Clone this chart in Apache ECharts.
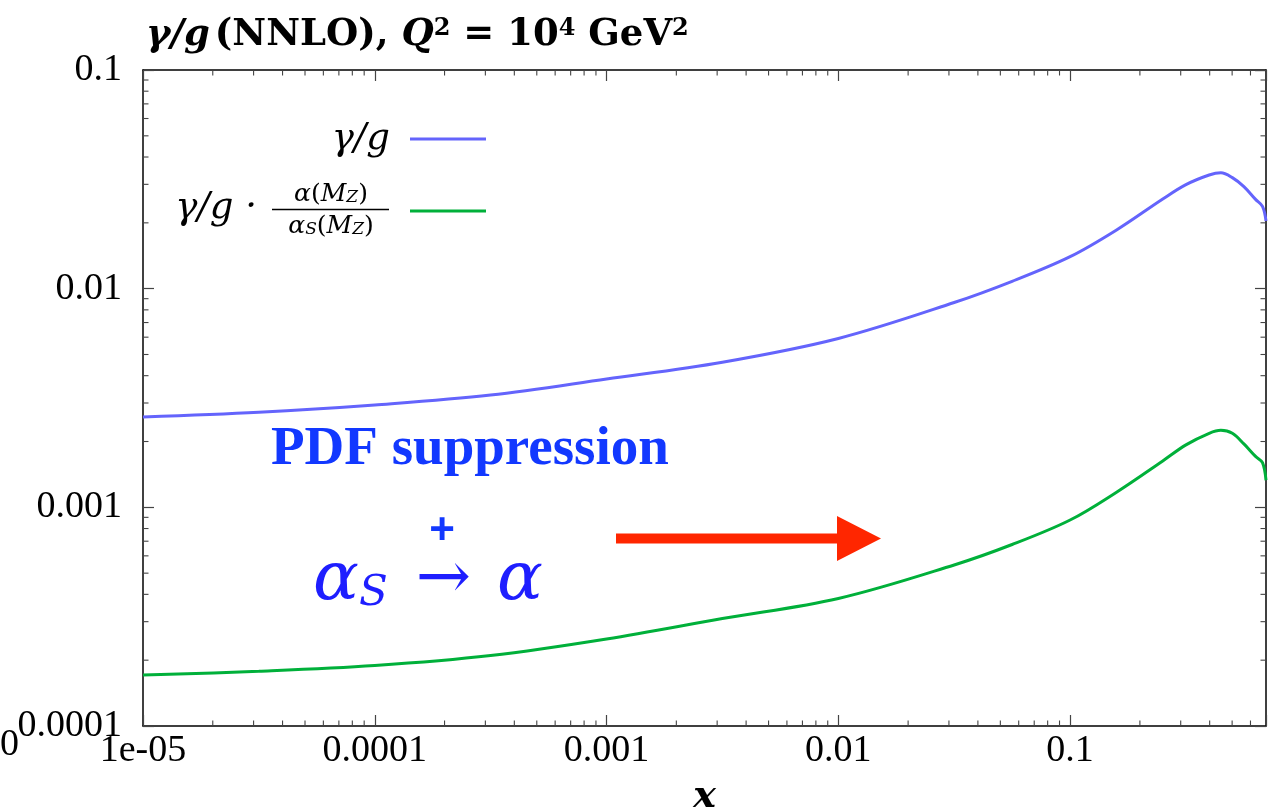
<!DOCTYPE html>
<html>
<head>
<meta charset="utf-8">
<script src="https://cdn.jsdelivr.net/npm/echarts@6/dist/echarts.min.js"></script>
<style>
  html, body { margin: 0; padding: 0; background: #ffffff; }
  #chart { width: 1282px; height: 811px; }
</style>
</head>
<body>
<div id="chart"></div>
<script>
// Momentum fraction x sampled along both curves
const xValues = [0.00001, 0.0000316, 0.0001, 0.000316, 0.001, 0.00316, 0.01, 0.0316, 0.0562, 0.1,
                 0.158, 0.251, 0.316, 0.398, 0.447, 0.501, 0.562, 0.631, 0.676, 0.7];
// photon / gluon ratio at NNLO, Q^2 = 10^4 GeV^2
const photonOverGluon = [0.00259, 0.00272, 0.00294, 0.00326, 0.00386, 0.00461, 0.00592, 0.00864, 0.0108, 0.0140,
                         0.0185, 0.0257, 0.0299, 0.0331, 0.0339, 0.0322, 0.0293, 0.0256, 0.0238, 0.0204];
// same ratio times alpha(M_Z) / alpha_S(M_Z)
const photonOverGluonScaled = [0.000171, 0.000178, 0.000189, 0.000210, 0.000250, 0.000310, 0.000383, 0.000545, 0.000676, 0.000875,
                               0.00117, 0.00163, 0.00193, 0.00218, 0.00225, 0.00218, 0.00195, 0.00171, 0.00160, 0.00133];

const xTickLabels = ['1e-05', '0.0001', '0.001', '0.01', '0.1'];   // exponents -5 .. -1
const yTickLabels = ['0.0001', '0.001', '0.01', '0.1'];            // exponents -4 .. -1
const X_MIN = 1e-5, X_MAX = 0.7, Y_MIN = 1e-4, Y_MAX = 0.1;

const SERIF = 'Liberation Serif';
const MATH = 'DejaVu Serif';
const BLUE_LINE = '#6464fc';
const GREEN_LINE = '#00b03a';
const NOTE_BLUE = '#1238ff';
const MATH_BLUE = '#1e1eff';

function decadeLabel(labels, firstExp) {
  return function (v) {
    const e = Math.log10(v);
    const r = Math.round(e);
    if (Math.abs(e - r) > 1e-6) return '';
    return labels[r - firstExp] || '';
  };
}

// minor tick positions 2..9 x 10^k inside the axis ranges
function minorTicks(lo, hi) {
  const out = [];
  for (let e = Math.floor(Math.log10(lo)); e <= Math.ceil(Math.log10(hi)); e++) {
    for (let k = 2; k <= 9; k++) {
      const v = k * Math.pow(10, e);
      if (v > lo && v < hi) out.push(v);
    }
  }
  return out;
}
const xMinor = minorTicks(X_MIN, X_MAX);
const yMinor = minorTicks(Y_MIN, Y_MAX);

const TICK_COLOR = '#444';
const MINOR_LEN = 5.5;

function pairs(xs, ys) { return xs.map((x, i) => [x, ys[i]]); }

const chart = echarts.init(document.getElementById('chart'), null, { renderer: 'canvas' });

const axisCommon = {
  type: 'log',
  logBase: 10,
  axisLine: { show: true, onZero: false, lineStyle: { color: '#000', width: 1.5 } },
  axisTick: { show: true, inside: true, length: 11, lineStyle: { color: TICK_COLOR, width: 1.2 } },
  splitLine: { show: false },
  minorTick: { show: false },
};

const fracRich = {
  i: { fontFamily: MATH, fontStyle: 'italic', fontSize: 25, fill: '#000' },
  n: { fontFamily: MATH, fontSize: 25, fill: '#000' },
  sub: { fontFamily: MATH, fontStyle: 'italic', fontSize: 17, fill: '#000', verticalAlign: 'bottom' }
};

const option = {
  backgroundColor: '#ffffff',
  animation: false,
  title: {
    left: 141,
    top: 12,
    text: '{gi|γ/g} {b|(NNLO), }{gi|Q}{sup|2}{b| = 10}{sup|4}{b| GeV}{sup|2}',
    textStyle: {
      rich: {
        gi: { fontFamily: MATH, fontSize: 37, fontWeight: 'bold', fontStyle: 'italic', color: '#000' },
        b: { fontFamily: MATH, fontSize: 37, fontWeight: 'bold', color: '#000' },
        sup: { fontFamily: MATH, fontSize: 24, fontWeight: 'bold', color: '#000', verticalAlign: 'top' }
      }
    }
  },
  grid: { left: 143, right: 16, top: 70, bottom: 85, containLabel: false, outerBoundsMode: 'none' },
  xAxis: [
    Object.assign({}, axisCommon, {
      position: 'bottom', min: X_MIN, max: X_MAX,
      name: 'x', nameLocation: 'middle', nameGap: 52,
      nameTextStyle: { fontFamily: MATH, fontSize: 38, fontWeight: 'bold', fontStyle: 'italic', color: '#000' },
      axisLabel: { show: true, margin: 6, color: '#000', fontFamily: SERIF, fontSize: 38,
                   formatter: decadeLabel(xTickLabels, -5) }
    }),
    Object.assign({}, axisCommon, {
      position: 'top', min: X_MIN, max: X_MAX, axisLabel: { show: false }
    })
  ],
  yAxis: [
    Object.assign({}, axisCommon, {
      position: 'left', min: Y_MIN, max: Y_MAX,
      axisLabel: { show: true, margin: 21, color: '#000', fontFamily: SERIF, fontSize: 38,
                   formatter: decadeLabel(yTickLabels, -4) }
    }),
    Object.assign({}, axisCommon, {
      position: 'right', min: Y_MIN, max: Y_MAX, axisLabel: { show: false }
    })
  ],
  series: [
    {
      name: 'γ/g',
      type: 'line',
      xAxisIndex: 0, yAxisIndex: 0,
      data: pairs(xValues, photonOverGluon),
      showSymbol: false,
      smooth: 0.35,
      lineStyle: { color: BLUE_LINE, width: 3 },
      z: 3
    },
    {
      name: 'γ/g · α(M_Z)/α_S(M_Z)',
      type: 'line',
      xAxisIndex: 0, yAxisIndex: 0,
      data: pairs(xValues, photonOverGluonScaled),
      showSymbol: false,
      smooth: 0.35,
      lineStyle: { color: GREEN_LINE, width: 3 },
      z: 3
    },
    {
      // minor ticks on bottom and top frame edges
      type: 'custom',
      xAxisIndex: 0, yAxisIndex: 0,
      silent: true, clip: false, z: 4,
      data: xMinor.map(v => [v, 0.001]),
      renderItem: function (params, api) {
        const cs = params.coordSys;
        const px = api.coord([api.value(0), api.value(1)])[0];
        const yb = cs.y + cs.height;
        return {
          type: 'group',
          children: [
            { type: 'line', shape: { x1: px, y1: yb, x2: px, y2: yb - MINOR_LEN }, style: { stroke: TICK_COLOR, lineWidth: 1.1 } },
            { type: 'line', shape: { x1: px, y1: cs.y, x2: px, y2: cs.y + MINOR_LEN }, style: { stroke: TICK_COLOR, lineWidth: 1.1 } }
          ]
        };
      }
    },
    {
      // minor ticks on left and right frame edges
      type: 'custom',
      xAxisIndex: 0, yAxisIndex: 0,
      silent: true, clip: false, z: 4,
      data: yMinor.map(v => [0.001, v]),
      renderItem: function (params, api) {
        const cs = params.coordSys;
        const py = api.coord([api.value(0), api.value(1)])[1];
        const xr = cs.x + cs.width;
        return {
          type: 'group',
          children: [
            { type: 'line', shape: { x1: cs.x, y1: py, x2: cs.x + MINOR_LEN, y2: py }, style: { stroke: TICK_COLOR, lineWidth: 1.1 } },
            { type: 'line', shape: { x1: xr, y1: py, x2: xr - MINOR_LEN, y2: py }, style: { stroke: TICK_COLOR, lineWidth: 1.1 } }
          ]
        };
      }
    }
  ],
  graphic: [
    // stray zero at the lower left corner
    { type: 'text', left: 0, top: 726, style: { text: '0', font: '38px "Liberation Serif"', fill: '#000' } },
    // key
    { type: 'text', x: 390, y: 139, style: { text: 'γ/g', font: 'italic 37px "DejaVu Serif"', fill: '#000', align: 'right', verticalAlign: 'middle' } },
    { type: 'line', shape: { x1: 410, y1: 139, x2: 486, y2: 139 }, style: { stroke: BLUE_LINE, lineWidth: 3 } },
    { type: 'text', x: 257, y: 208, style: { text: 'γ/g ·', font: 'italic 37px "DejaVu Serif"', fill: '#000', align: 'right', verticalAlign: 'middle' } },
    { type: 'text', x: 331, y: 194, style: { text: '{i|α}{n|(}{i|M}{sub|Z}{n|)}', align: 'center', verticalAlign: 'middle', rich: fracRich } },
    { type: 'line', shape: { x1: 272, y1: 209.5, x2: 389, y2: 209.5 }, style: { stroke: '#000', lineWidth: 1.3 } },
    { type: 'text', x: 331, y: 226, style: { text: '{i|α}{sub|S}{n|(}{i|M}{sub|Z}{n|)}', align: 'center', verticalAlign: 'middle', rich: fracRich } },
    { type: 'line', shape: { x1: 410, y1: 211, x2: 486, y2: 211 }, style: { stroke: GREEN_LINE, lineWidth: 3 } },
    // annotation
    { type: 'text', x: 271, y: 450, style: { text: 'PDF suppression', font: 'bold 55px "Liberation Serif"', fill: NOTE_BLUE, align: 'left', verticalAlign: 'middle' } },
    { type: 'text', x: 442, y: 532, style: { text: '+', font: 'bold 44px "Liberation Sans"', fill: NOTE_BLUE, align: 'center', verticalAlign: 'middle' } },
    {
      type: 'text', x: 313, y: 581,
      style: {
        text: '{a|α}{s|S}{r|→}{a|α}', align: 'left', verticalAlign: 'middle',
        rich: {
          a: { fontFamily: MATH, fontStyle: 'italic', fontSize: 68, fill: MATH_BLUE },
          s: { fontFamily: MATH, fontStyle: 'italic', fontSize: 42, fill: MATH_BLUE, verticalAlign: 'bottom' },
          r: { fontFamily: MATH, fontSize: 66, fill: MATH_BLUE, padding: [0, 26, 0, 28] }
        }
      }
    },
    {
      type: 'polygon',
      shape: { points: [[616, 533.5], [837, 533.5], [837, 516], [881, 538.5], [837, 561], [837, 543.5], [616, 543.5]] },
      style: { fill: '#ff2600' }
    }
  ]
};

chart.setOption(option);
</script>
</body>
</html>
